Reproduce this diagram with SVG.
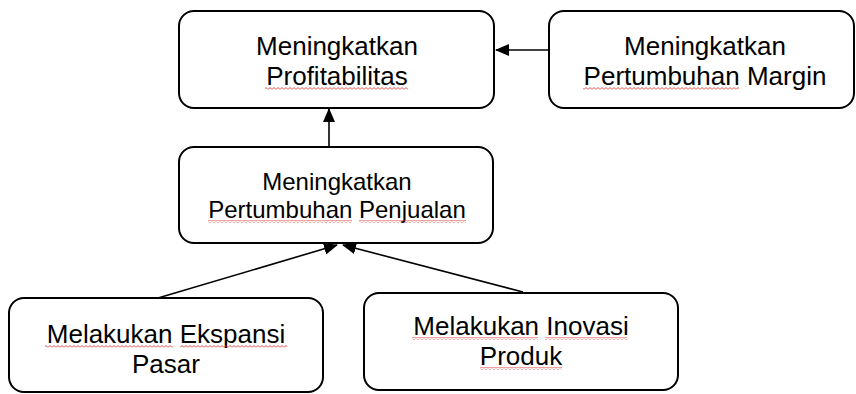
<svg xmlns="http://www.w3.org/2000/svg" width="856" height="394" viewBox="0 0 856 394">
  <style>
    .box { fill: #ffffff; stroke: #000000; stroke-width: 2; }
    .lbl { font-family: "Liberation Sans", Arial, sans-serif; font-size: 26px; fill: #000000; text-anchor: middle; }
    .sm { font-size: 24px; }
    .edge { stroke: #000000; stroke-width: 1.6; fill: none; marker-end: url(#head); }
    .spell { fill: url(#squiggle); }
  </style>
  <defs>
    <marker id="head" markerWidth="14" markerHeight="12" refX="13" refY="6" orient="auto" markerUnits="userSpaceOnUse">
      <path d="M0,0 L14,6 L0,12 Z" fill="#000000"/>
    </marker>
    <pattern id="squiggle" width="4" height="3" patternUnits="userSpaceOnUse">
      <path d="M0,2.5 L2,0.5 L4,2.5" stroke="#e03030" stroke-width="0.9" fill="none"/>
    </pattern>
  </defs>

  <g id="connectors">
    <line class="edge" x1="549" y1="50" x2="496" y2="50"/>
    <line class="edge" x1="329" y1="147" x2="329" y2="109"/>
    <line class="edge" x1="158" y1="298" x2="337" y2="245"/>
    <line class="edge" x1="523" y1="292" x2="343" y2="245"/>
  </g>

  <g id="node-profitabilitas">
    <rect class="box" x="179" y="11" width="315" height="97" rx="15"/>
    <text class="lbl" x="337" y="55">Meningkatkan</text>
    <text class="lbl" x="337" y="85">Profitabilitas</text>
    <rect class="spell" x="265" y="87" width="143" height="3"/>
  </g>

  <g id="node-margin">
    <rect class="box" x="549" y="11" width="305" height="97" rx="15"/>
    <text class="lbl" x="705" y="55">Meningkatkan</text>
    <text class="lbl" x="705" y="85">Pertumbuhan Margin</text>
    <rect class="spell" x="583" y="87" width="156" height="3"/>
  </g>

  <g id="node-penjualan">
    <rect class="box" x="179" y="147" width="314" height="96" rx="15"/>
    <text class="lbl sm" x="337" y="190">Meningkatkan</text>
    <text class="lbl sm" x="337" y="218">Pertumbuhan Penjualan</text>
    <rect class="spell" x="208" y="220" width="144" height="3"/>
    <rect class="spell" x="359" y="220" width="107" height="3"/>
  </g>

  <g id="node-ekspansi">
    <rect class="box" x="9" y="298" width="314" height="94" rx="15"/>
    <text class="lbl" x="166" y="343">Melakukan Ekspansi</text>
    <text class="lbl" x="166" y="373">Pasar</text>
    <rect class="spell" x="45" y="345" width="128" height="3"/>
    <rect class="spell" x="180" y="345" width="107" height="3"/>
  </g>

  <g id="node-inovasi">
    <rect class="box" x="364" y="293" width="314" height="97" rx="15"/>
    <text class="lbl" x="521" y="335">Melakukan Inovasi</text>
    <text class="lbl" x="521" y="365">Produk</text>
    <rect class="spell" x="412" y="337" width="126" height="3"/>
    <rect class="spell" x="545" y="337" width="82" height="3"/>
    <rect class="spell" x="480" y="367" width="82" height="3"/>
  </g>
</svg>
